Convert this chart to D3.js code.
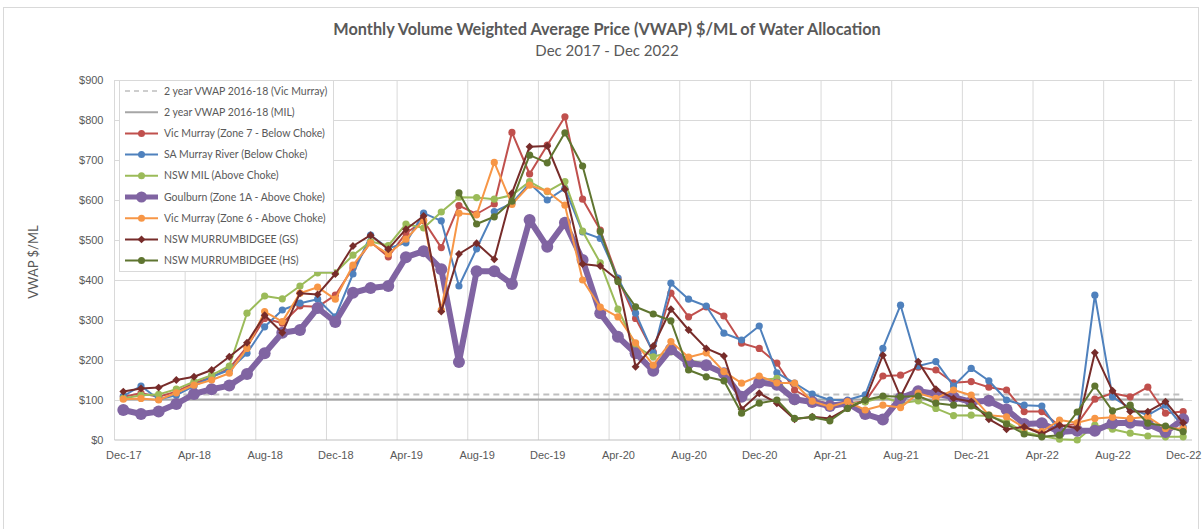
<!DOCTYPE html>
<html lang="en">
  <head>
    <meta charset="UTF-8" />
    <title>Monthly VWAP of Water Allocation</title>
    <script src="https://d3js.org/d3.v7.min.js"></script>
    <style>
      html,
      body {
        margin: 0;
        padding: 0;
        background: #fff;
        font-family: Lato, "Open Sans", sans-serif;
      }
      svg {
        display: block;
      }
      .grid line {
        stroke: #d9d9d9;
        stroke-width: 1;
      }
      .grid .domain {
        display: none;
      }
      .axis text {
        fill: #595959;
        font-size: 11px;
      }
      .axis .domain {
        display: none;
      }
      .legend text {
        fill: #595959;
        font-size: 10.5px;
      }
    </style>
  </head>
  <body>
    <svg width="1202" height="529"></svg>

    <script>
      // month categories Dec-17 .. Dec-22
      const months = [
        "Dec-17", "Jan-18", "Feb-18", "Mar-18", "Apr-18", "May-18", "Jun-18", "Jul-18",
        "Aug-18", "Sep-18", "Oct-18", "Nov-18", "Dec-18", "Jan-19", "Feb-19", "Mar-19",
        "Apr-19", "May-19", "Jun-19", "Jul-19", "Aug-19", "Sep-19", "Oct-19", "Nov-19",
        "Dec-19", "Jan-20", "Feb-20", "Mar-20", "Apr-20", "May-20", "Jun-20", "Jul-20",
        "Aug-20", "Sep-20", "Oct-20", "Nov-20", "Dec-20", "Jan-21", "Feb-21", "Mar-21",
        "Apr-21", "May-21", "Jun-21", "Jul-21", "Aug-21", "Sep-21", "Oct-21", "Nov-21",
        "Dec-21", "Jan-22", "Feb-22", "Mar-22", "Apr-22", "May-22", "Jun-22", "Jul-22",
        "Aug-22", "Sep-22", "Oct-22", "Nov-22", "Dec-22"
      ];
      const tickLabels = [
        "Dec-17", "Apr-18", "Aug-18", "Dec-18", "Apr-19", "Aug-19", "Dec-19", "Apr-20",
        "Aug-20", "Dec-20", "Apr-21", "Aug-21", "Dec-21", "Apr-22", "Aug-22", "Dec-22"
      ];
      const yTicks = [0, 100, 200, 300, 400, 500, 600, 700, 800, 900];

      // reference levels
      const vicMurrayAvg = 114;
      const milAvg = 101;

      // series values ($/ML)
      const vicZone7 = [
        108, 117, 108, 121, 142, 157, 179, 233, 304, 292, 335, 333, 362, 430, 495, 458,
        517, 548, 481, 586, 565, 590, 769, 665, 737, 808, 602, 525, 404, 304, 220, 367,
        308, 333, 310, 242, 229, 192, 125, 100, 90, 92, 96, 160, 162, 182, 175, 143,
        146, 132, 125, 71, 71, 35, 40, 102, 117, 108, 132, 67, 71
      ];
      const saMurray = [
        110, 135, 102, 112, 135, 158, 175, 217, 283, 325, 342, 352, 308, 415, 512, 479,
        493, 567, 548, 385, 478, 571, 592, 642, 600, 629, 520, 504, 405, 317, 217, 392,
        352, 335, 267, 250, 285, 168, 142, 115, 100, 100, 113, 229, 337, 185, 196, 135,
        179, 148, 100, 87, 85, 21, 25, 362, 108, 79, 62, 87, 33
      ];
      const nswMil = [
        104, 112, 114, 127, 146, 162, 185, 317, 360, 353, 385, 418, 418, 462, 496, 486,
        540, 530, 570, 607, 606, 602, 612, 646, 621, 646, 522, 443, 327, 235, 208, 220,
        200, 190, 165, 110, 150, 154, 96, 95, 85, 90, 95, 108, 92, 98, 79, 61,
        62, 60, 45, 20, 10, 2, 0, 37, 27, 17, 10, 8, 8
      ];
      const goulburn = [
        75, 65, 71, 90, 115, 127, 136, 165, 217, 268, 275, 330, 295, 368, 380, 385,
        457, 472, 427, 195, 422, 422, 390, 550, 483, 543, 450, 317, 258, 217, 173, 227,
        192, 187, 167, 108, 144, 138, 102, 95, 85, 92, 65, 51, 105, 122, 116, 107,
        95, 98, 76, 40, 42, 20, 23, 23, 42, 43, 40, 20, 52
      ];
      const vicZone6 = [
        102, 104, 100, 118, 137, 150, 167, 229, 321, 296, 367, 382, 352, 437, 493, 465,
        502, 550, 325, 567, 563, 694, 589, 637, 622, 587, 400, 332, 308, 243, 187, 246,
        207, 218, 171, 142, 160, 143, 142, 97, 83, 96, 75, 87, 81, 117, 104, 125,
        112, 62, 58, 31, 21, 50, 43, 54, 57, 54, 58, 29, 29
      ];
      const murrGS = [
        121, 129, 131, 150, 158, 175, 208, 243, 312, 268, 367, 364, 415, 485, 512, 477,
        527, 560, 321, 465, 492, 452, 617, 733, 735, 627, 440, 435, 400, 183, 235, 327,
        275, 229, 210, 77, 117, 92, 52, 58, 54, 79, 100, 212, 108, 196, 127, 104,
        96, 52, 27, 33, 15, 37, 30, 218, 123, 71, 71, 96, 43
      ];
      const murrHS = [
        null, null, null, null, null, null, null, null, null, null, null, null, null, null, null, null,
        null, null, null, 618, 540, 558, 597, 712, 693, 768, 685, 521, 396, 333, 315, 298,
        175, 158, 148, 67, 92, 100, 54, 57, 48, 79, 100, 110, 108, 110, 92, 87,
        85, 62, 40, 15, 8, 12, 70, 135, 73, 87, 42, 35, 21
      ];

      const seriesNames = [
        "Vic Murray (Zone 7 - Below Choke)",
        "SA Murray River (Below Choke)",
        "NSW MIL (Above Choke)",
        "Goulburn (Zone 1A - Above Choke)",
        " Vic Murray (Zone 6 - Above Choke)",
        "NSW MURRUMBIDGEE (GS)",
        "NSW MURRUMBIDGEE (HS)"
      ];
      const seriesValues = [vicZone7, saMurray, nswMil, goulburn, vicZone6, murrGS, murrHS];
      const colors = ["#c0504d", "#4f81bd", "#9bbb59", "#8064a2", "#f79646", "#772c2a", "#5f7530"];

      const svg = d3.select("svg");

      // plot area
      const plot = { left: 114.5, right: 1192, top: 80, bottom: 440 };

      const x = d3.scalePoint().domain(months).range([plot.left, plot.right]).padding(0.5);
      const step = x.step();
      const y = d3.scaleLinear().domain([0, 900]).range([plot.bottom, plot.top]);

      // outer frame
      svg.append("rect")
        .attr("x", 3.5).attr("y", 7.5)
        .attr("width", 1195).attr("height", 530)
        .attr("fill", "none").attr("stroke", "#d9d9d9");

      // titles
      svg.append("text")
        .attr("x", 607).attr("y", 35)
        .attr("text-anchor", "middle")
        .style("font-size", "16.3px").style("font-weight", "bold")
        .attr("fill", "#595959")
        .text("Monthly Volume Weighted Average Price (VWAP) $/ML of Water Allocation");
      svg.append("text")
        .attr("x", 607).attr("y", 56)
        .attr("text-anchor", "middle")
        .style("font-size", "15px")
        .attr("fill", "#595959")
        .text("Dec 2017 - Dec 2022");

      // horizontal gridlines
      svg.append("g")
        .attr("class", "grid")
        .attr("transform", `translate(${plot.left},0)`)
        .call(d3.axisLeft(y).tickValues(yTicks.slice(1)).tickSize(-(plot.right - plot.left)).tickFormat(""));

      // vertical gridlines at category boundaries
      svg.append("g")
        .attr("class", "grid")
        .selectAll("line")
        .data(tickLabels)
        .join("line")
        .attr("x1", (d) => x(d) - step / 2)
        .attr("x2", (d) => x(d) - step / 2)
        .attr("y1", plot.top)
        .attr("y2", plot.bottom);

      // baseline
      svg.append("line")
        .attr("x1", plot.left).attr("x2", plot.right)
        .attr("y1", y(0)).attr("y2", y(0))
        .attr("stroke", "#bfbfbf").attr("stroke-width", 1);

      // axes labels
      svg.append("g")
        .attr("class", "axis")
        .attr("transform", `translate(${plot.left - 8},0)`)
        .call(d3.axisLeft(y).tickValues(yTicks).tickSize(0).tickFormat((d) => "$" + d));

      svg.append("g")
        .attr("class", "axis")
        .attr("transform", `translate(0,${plot.bottom + 8})`)
        .call(d3.axisBottom(x).tickValues(tickLabels).tickSize(0));

      svg.append("text")
        .attr("transform", "translate(38,262) rotate(-90)")
        .attr("text-anchor", "middle")
        .style("font-size", "13px")
        .attr("fill", "#595959")
        .text("VWAP $/ML");

      // reference lines
      svg.append("line")
        .attr("x1", x(months[0])).attr("x2", x(months[months.length - 1]))
        .attr("y1", y(vicMurrayAvg)).attr("y2", y(vicMurrayAvg))
        .attr("stroke", "#bfbfbf").attr("stroke-width", 2).attr("stroke-dasharray", "6,4");
      svg.append("line")
        .attr("x1", x(months[0])).attr("x2", x(months[months.length - 1]))
        .attr("y1", y(milAvg)).attr("y2", y(milAvg))
        .attr("stroke", "#a6a6a6").attr("stroke-width", 2);

      const line = d3.line()
        .defined((d) => d != null)
        .x((d, i) => x(months[i]))
        .y((d) => y(d));

      // series
      seriesValues.forEach(function (vals, s) {
        const thick = s === 3;
        const g = svg.append("g");
        g.append("path")
          .datum(vals)
          .attr("fill", "none")
          .attr("stroke", colors[s])
          .attr("stroke-width", thick ? 6 : 2)
          .attr("stroke-linejoin", "round")
          .attr("d", line);

        const pts = vals.map((v, i) => ({ v, i })).filter((p) => p.v != null);
        if (s === 5) {
          g.selectAll("path.m")
            .data(pts)
            .join("path")
            .attr("class", "m")
            .attr("d", d3.symbol(d3.symbolDiamond2, 40))
            .attr("transform", (p) => `translate(${x(months[p.i])},${y(p.v)})`)
            .attr("fill", colors[s]);
        } else {
          g.selectAll("circle")
            .data(pts)
            .join("circle")
            .attr("cx", (p) => x(months[p.i]))
            .attr("cy", (p) => y(p.v))
            .attr("r", thick ? 6 : 3.6)
            .attr("fill", colors[s]);
        }
      });

      // legend
      const legend = svg.append("g").attr("class", "legend");
      legend.append("rect")
        .attr("x", 119.5).attr("y", 80.5)
        .attr("width", 214).attr("height", 191)
        .attr("fill", "#fff").attr("stroke", "#d9d9d9");

      const legendItems = [
        { name: "2 year VWAP 2016-18 (Vic Murray)", type: "dash" },
        { name: "2 year VWAP 2016-18 (MIL)", type: "solid" }
      ].concat(seriesNames.map((n, s) => ({ name: n, type: "series", s })));

      legendItems.forEach(function (it, k) {
        const ly = 91 + k * 21.2;
        const row = legend.append("g").attr("transform", `translate(0,${ly})`);
        if (it.type === "dash") {
          row.append("line").attr("x1", 125).attr("x2", 158)
            .attr("stroke", "#bfbfbf").attr("stroke-width", 1.5).attr("stroke-dasharray", "5,4");
        } else if (it.type === "solid") {
          row.append("line").attr("x1", 125).attr("x2", 158)
            .attr("stroke", "#a6a6a6").attr("stroke-width", 2);
        } else {
          const thick = it.s === 3;
          row.append("line").attr("x1", 125).attr("x2", 158)
            .attr("stroke", colors[it.s]).attr("stroke-width", thick ? 5 : 2);
          if (it.s === 5) {
            row.append("path")
              .attr("d", d3.symbol(d3.symbolDiamond2, 40))
              .attr("transform", "translate(141.5,0)")
              .attr("fill", colors[it.s]);
          } else {
            row.append("circle").attr("cx", 141.5).attr("cy", 0)
              .attr("r", thick ? 5.5 : 3.5).attr("fill", colors[it.s]);
          }
        }
        row.append("text")
          .attr("x", 164).attr("y", 0)
          .attr("dy", "0.35em")
          .text(it.name);
      });
    </script>
  </body>
</html>
